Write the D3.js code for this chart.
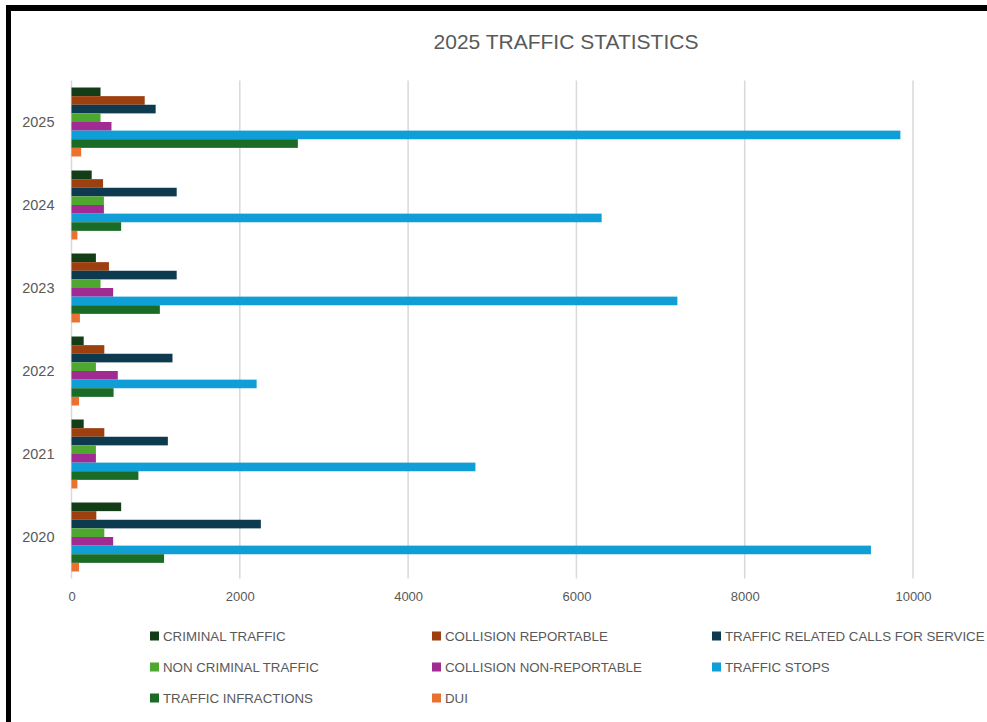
<!DOCTYPE html>
<html>
<head>
<meta charset="utf-8">
<script src="https://cdn.jsdelivr.net/npm/d3@7"></script>
<style>
  body { margin: 0; background: #fff; }
  text { font-family: "Liberation Sans Narrow", "Arial Narrow", "Liberation Sans", sans-serif; fill: #595959; }
</style>
</head>
<body>
<div id="wrapper"></div>
<script>
// years, top to bottom as shown
const years = ["2025", "2024", "2023", "2022", "2021", "2020"];
const seriesNames = [
  "CRIMINAL TRAFFIC",
  "COLLISION REPORTABLE",
  "TRAFFIC RELATED CALLS FOR SERVICE",
  "NON CRIMINAL TRAFFIC",
  "COLLISION NON-REPORTABLE",
  "TRAFFIC STOPS",
  "TRAFFIC INFRACTIONS",
  "DUI"
];
// values per year, same order as years
const criminalTraffic      = [345, 240, 290, 145, 145, 590];
const collisionReportable  = [870, 375, 445, 390, 390, 295];
const trafficCalls         = [1000, 1250, 1250, 1200, 1145, 2250];
const nonCriminalTraffic   = [345, 385, 345, 290, 290, 390];
const collisionNonReport   = [475, 385, 495, 550, 290, 495];
const trafficStops         = [9850, 6300, 7200, 2200, 4800, 9500];
const trafficInfractions   = [2690, 590, 1050, 500, 795, 1100];
const dui                  = [115, 70, 100, 90, 70, 90];
const xTicks = [0, 2000, 4000, 6000, 8000, 10000];

const seriesValues = [criminalTraffic, collisionReportable, trafficCalls, nonCriminalTraffic,
  collisionNonReport, trafficStops, trafficInfractions, dui];
const colors = ["#123d17", "#9c4010", "#0e3a4f", "#4ea72e", "#a02b93", "#0f9ed5", "#1a6b25", "#e97132"];

let dimensions = {
  width: 987,
  height: 722,
  margin: { top: 80.5, right: 74, bottom: 143.5, left: 71.5 }
}
dimensions.boundedWidth = dimensions.width - dimensions.margin.left - dimensions.margin.right;
dimensions.boundedHeight = dimensions.height - dimensions.margin.top - dimensions.margin.bottom;

const svg = d3.select("#wrapper").append("svg")
  .attr("width", dimensions.width)
  .attr("height", dimensions.height);

svg.append("rect").attr("width", dimensions.width).attr("height", dimensions.height).attr("fill", "#fff");

// black frame (top + left edges of the screenshot)
svg.append("rect").attr("x", 6).attr("y", 5).attr("width", dimensions.width - 6).attr("height", 6).attr("fill", "#000");
svg.append("rect").attr("x", 6).attr("y", 5).attr("width", 5).attr("height", dimensions.height - 5).attr("fill", "#000");

svg.append("text")
  .attr("x", 566)
  .attr("y", 49)
  .attr("text-anchor", "middle")
  .style("font-size", "21px")
  .text("2025 TRAFFIC STATISTICS");

const bounds = svg.append("g")
  .attr("transform", `translate(${dimensions.margin.left},${dimensions.margin.top})`);

const xScale = d3.scaleLinear()
  .domain([0, 10000])
  .range([0, dimensions.boundedWidth]);

const yScale = d3.scaleBand()
  .domain(years)
  .range([0, dimensions.boundedHeight])
  .paddingInner(0.169)
  .paddingOuter(0.0845);

const seriesScale = d3.scaleBand()
  .domain(seriesNames)
  .range([0, yScale.bandwidth()]);

// gridlines
bounds.append("g")
  .selectAll("line")
  .data(xTicks)
  .join("line")
  .attr("x1", d => xScale(d))
  .attr("x2", d => xScale(d))
  .attr("y1", 0)
  .attr("y2", dimensions.boundedHeight)
  .attr("stroke", "#d9d9d9")
  .attr("stroke-width", 1.5);

// bars
const groups = bounds.append("g")
  .selectAll("g")
  .data(years)
  .join("g")
  .attr("transform", d => `translate(0,${yScale(d)})`);

groups.selectAll("rect")
  .data((year, i) => seriesNames.map((name, j) => ({ name, value: seriesValues[j][i], color: colors[j] })))
  .join("rect")
  .attr("x", xScale(0))
  .attr("y", d => seriesScale(d.name))
  .attr("width", d => xScale(d.value) - xScale(0))
  .attr("height", seriesScale.bandwidth())
  .attr("fill", d => d.color);

// axes
const xAxisGenerator = d3.axisBottom(xScale)
  .tickValues(xTicks)
  .tickSize(0)
  .tickPadding(13)
  .tickFormat(d3.format("d"));
const xAxis = bounds.append("g")
  .attr("transform", `translate(0,${dimensions.boundedHeight})`)
  .call(xAxisGenerator);
xAxis.select(".domain").remove();
xAxis.selectAll("text").style("font-size", "13px").attr("fill", "#595959");

const yAxisGenerator = d3.axisLeft(yScale).tickSize(0).tickPadding(17);
const yAxis = bounds.append("g").call(yAxisGenerator);
yAxis.select(".domain").remove();
yAxis.selectAll("text").style("font-size", "14.5px").attr("fill", "#595959");

// legend
const legendX = [150, 432, 712];
const legendY = [636, 667, 698];
const legend = svg.append("g")
  .selectAll("g")
  .data(seriesNames)
  .join("g")
  .attr("transform", (d, i) => `translate(${legendX[i % 3]},${legendY[Math.floor(i / 3)]})`);
legend.append("rect")
  .attr("x", 0).attr("y", -4.5)
  .attr("width", 9).attr("height", 9)
  .attr("fill", (d, i) => colors[i]);
legend.append("text")
  .attr("x", 13)
  .attr("dy", "0.36em")
  .style("font-size", "13.3px")
  .text(d => d);
</script>
</body>
</html>
